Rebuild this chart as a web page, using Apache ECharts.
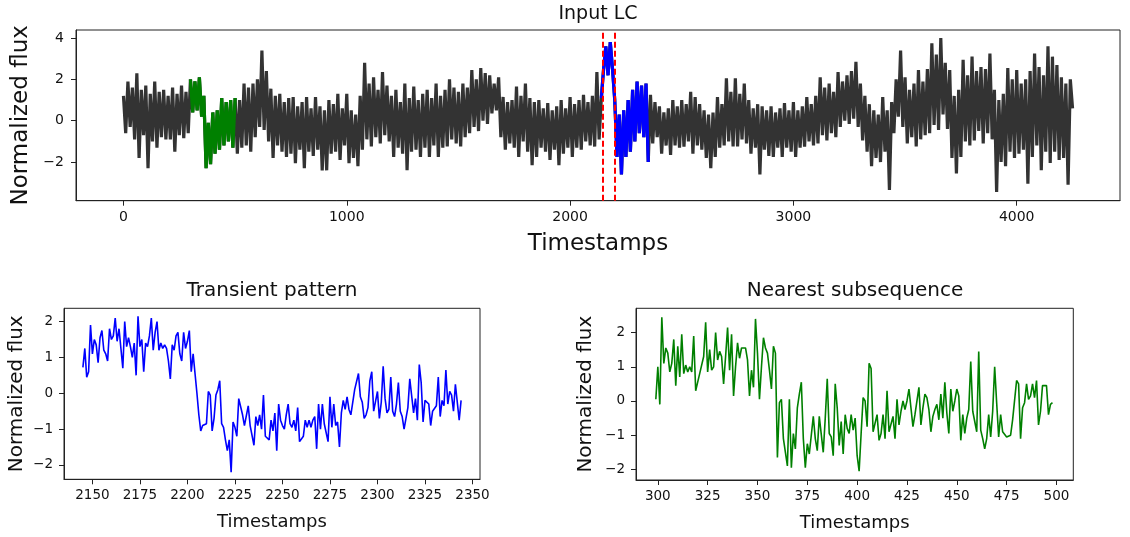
<!DOCTYPE html>
<html>
<head>
<meta charset="utf-8">
<script src="https://cdn.jsdelivr.net/npm/echarts@6/dist/echarts.min.js"></script>
<style>html,body{margin:0;padding:0;background:#fff}#c{width:1130px;height:537px}</style>
</head>
<body>
<div id="c"></div>
<script>
// ---- Data ----
// Input light curve, sampled every 10 timestamps from 0
const lcStart = 0;
const lcStep = 10;
const lcValues = [
 1.2, -0.6, 1.9, -0.3, 1.6,   -0.9, 2.3, -1.8, 1.5, -0.7,
 1.7, -2.3, 1.3, -1.0, 1.9,   -1.3, 1.4, -0.8, 1.5, -0.9,
 1.2, -0.9, 1.6, -1.5, 1.3,   -0.7, 1.7, -0.85, 1.4, -0.6,
 2.0, 0.4, 1.9, 0.5, 2.1,     0.2, 1.2, -2.3, -0.1, -2.1,
 0.4, -1.6, 0.5, -1.4, 1.1,   -1.2, 0.9, -1.0, 1.0, -1.3,
 1.1, -1.6, 1.0, -1.3, 1.8,   -1.2, 1.6, -1.5, 1.8, -0.8,
 2.0, -0.3, 3.4, -0.45, 2.4,  -1.0, 1.55, -1.8, 1.2, -1.2,
 1.3, -1.5, 0.9, -1.75, 1.1,  -1.6, 1.15, -2.05, 0.7, -1.4,
 0.9, -2.3, 1.15, -1.5, 0.6,  -1.7, 1.15, -1.4, 0.7, -2.4,
 0.5, -2.4, 1.0, -1.6, 0.8,   -1.5, 1.3, -1.9, 0.6, -1.2,
 1.3, -2.05, 0.5, -1.8, 0.3,  -2.2, 1.2, -1.4, 2.8, -0.9,
 1.8, -1.25, 2.1, -0.8, 1.5,  -1.1, 2.35, -0.7, 1.7, -1.0,
 1.2, -1.75, 1.5, -1.3, 0.9,  -1.6, 1.8, -2.4, 1.1, -1.5,
 1.65, -1.4, 1.0, -1.75, 1.3, -1.3, 1.5, -1.75, 1.1, -1.2,
 1.8, -1.75, 1.2, -1.3, 1.5,  -1.25, 2.0, -0.9, 1.6, -1.1,
 1.4, -1.25, 1.8, -0.8, 1.6,  -0.6, 2.45, -0.3, 2.0, -0.5,
 2.55, 0.0, 2.3, -0.15, 2.2,  0.35, 1.8, 0.5, 2.1, -0.8,
 1.15, -1.4, 0.9, -1.1, 1.0,  -1.3, 1.65, -1.75, 1.2, -1.0,
 1.8, -1.5, 1.1, -2.15, 0.9,  -1.75, 1.0, -1.3, 0.6, -1.5,
 0.85, -1.9, 0.5, -1.4, 0.7,  -2.15, 1.0, -1.6, 0.6, -1.3,
 1.15, -1.75, 0.8, -1.3, 1.0, -1.4, 1.25, -1.0, 0.9, -1.2,
 1.2, -1.25, 2.35, -0.9, 1.1, 2.5, 3.6, 2.2, 3.8, 2.5,
 1.0, -1.75, 0.3, -2.6, 0.5,  -1.75, 1.0, -1.5, 1.5, -1.0,
 1.9, -0.6, 1.7, -0.8, 1.8,   -2.0, 1.25, -1.1, 0.9, -0.8,
 0.7, -1.6, 0.4, -1.2, 0.6,   -1.65, 1.0, -1.2, 0.7, -1.3,
 1.0, -1.25, 0.8, -1.0, 1.4,  -1.6, 1.15, -1.2, 0.8, -1.4,
 0.5, -1.8, 0.3, -2.3, 0.4,   -1.75, 1.15, -1.3, 0.8, -1.2,
 2.05, -1.0, 1.4, -1.25, 2.05, -1.25, 1.3, -0.9, 1.8, -1.1,
 1.0, -1.6, 0.6, -1.3, 0.8,   -2.6, 0.7, -1.4, 0.5, -1.7,
 0.7, -1.75, 0.4, -1.3, 0.6,  -1.75, 0.85, -1.3, 0.5, -1.5,
 0.9, -1.75, 0.5, -1.3, 0.7,  -1.25, 1.15, -1.0, 0.8, -1.2,
 1.2, -1.1, 2.1, -0.7, 1.6,   -0.95, 1.8, -0.6, 1.4, -0.8,
 2.35, -0.3, 1.9, 0.0, 2.2,   -0.15, 2.4, 0.1, 2.85, -0.3,
 1.8, -0.95, 1.2, -1.5, 0.8,  -2.2, 0.5, -1.8, 0.3, -2.0,
 1.15, -1.5, 0.5, -3.35, 0.9, -0.6, 2.0, 0.2, 3.4, -0.3,
 2.1, -1.1, 1.5, -0.8, 1.8,   -1.25, 2.45, -0.9, 1.9, -0.7,
 2.5, -0.6, 3.75, -0.2, 3.2,  -0.45, 4.0, 0.3, 2.8, -0.4,
 2.45, -1.8, 1.2, -2.55, 1.5, -1.75, 2.95, -1.0, 2.2, -1.2,
 3.1, -0.95, 2.4, -0.5, 2.6,  -1.1, 2.5, -0.6, 3.25, -0.9,
 1.5, -3.45, 1.0, -2.0, 1.3,  -2.2, 2.55, -1.5, 2.0, -1.8,
 2.45, -1.6, 1.8, -1.4, 2.0,  -3.05, 2.4, -1.75, 3.25, -1.2,
 2.6, -2.4, 2.2, -1.5, 3.6,   -2.05, 3.1, -1.5, 2.7, -1.9,
 2.1, -1.8, 1.8, -3.1, 2.0,   0.6
];
const nearestRange = [300, 500];     // green segment on the input LC
const transientRange = [2140, 2350]; // blue segment on the input LC
const markerLines = [2145, 2200];    // red dashed lines

// Transient pattern (timestamps 2145..2344)
const transientStart = 2145;
const transientValues = [
 0.72, 1.25, 0.45, 0.6, 1.9, 1.1, 1.5, 1.35, 0.85, 1.55,
 1.75, 1.2, 1.1, 0.9, 1.8, 1.5, 1.6, 2.1, 1.45, 1.8,
 1.85, 0.7, 2.0, 1.3, 1.55, 1.3, 1.0, 1.4, 0.5, 2.15,
 1.3, 1.5, 0.6, 1.4, 1.3, 1.6, 2.1, 1.2, 1.7, 2.0,
 1.2, 1.4, 1.25, 1.35, 1.25, 0.9, 0.4, 1.35, 1.2, 1.6,
 1.7, 1.1, 0.9, 1.7, 1.25, 1.45, 1.75, 0.6, 1.1, 1.15,
 0.0, -0.6, -1.05, -0.9, -0.95, -0.85, 0.05, -0.05, -1.05, -0.7,
 -0.05, 0.1, 0.35, -0.85, -0.95, -1.3, -1.6, -1.3, -2.2, -0.8,
 -0.95, -1.2, -0.15, -0.15, -0.6, -0.9, -0.95, -0.35, -0.9, -0.85,
 -1.45, -0.65, -0.9, -0.6, -1.0, -0.05, -1.2, -1.15, -1.3, -0.75,
 -1.05, -0.55, -1.6, -0.3, -0.75, -0.9, -1.0, -0.6, -0.3, -0.85,
 -0.95, -0.75, -1.05, -0.4, -1.35, -1.35, -1.2, -0.75, -0.95, -0.75,
 -0.95, -0.75, -0.65, -1.55, -0.3, -1.0, -0.3, -0.85, -0.85, -1.35,
 -0.1, -0.95, -0.3, -0.9, -0.8, -1.5, -0.55, -0.2, -0.45, -0.1,
 -0.45, -0.6, -0.6, 0.1, 0.05, 0.55, -0.1, -0.25, -0.7, -0.6,
 -0.4, 0.35, 0.6, -0.5, -0.55, 0.05, -0.7, -0.25, 0.75, -0.15,
 -0.55, -0.45, 0.45, -0.5, -0.65, -0.3, 0.3, -0.5, -0.65, -1.0,
 -0.95, -0.4, 0.4, 0.45, -0.55, -0.15, -0.75, 0.8, 0.3, -0.8,
 -0.2, -0.2, -0.3, -0.9, -0.5, -0.45, -0.35, 0.45, -0.65, -0.2,
 -0.35, 0.65, -0.3, 0.05, -0.05, -0.5, 0.25, 0.25, -0.75, -0.2
];

// Nearest subsequence (timestamps 299..498)
const nearestStart = 299;
const nearestValues = [
 0.05, 1.0, -0.1, 2.45, 1.1, 1.55, 1.4, 0.85, 1.1, 1.8,
 0.45, 1.6, 0.7, 1.95, 0.8, 1.05, 0.85, 1.0, 0.85, 1.9,
 0.3, 0.55, 0.8, 0.85, 1.3, 2.3, 0.85, 1.5, 0.9, 1.0,
 2.0, 1.2, 1.45, 1.3, 0.5, 1.3, 2.15, 0.9, 1.95, 0.15,
 1.0, 1.7, 1.25, 1.55, 1.6, 1.55, 1.2, 0.15, 0.9, 0.4,
 2.4, 1.4, 0.05, 1.0, 1.85, 1.55, 1.4, 0.9, 0.35, 1.6,
 1.4, -1.65, -0.05, 0.05, -1.1, -1.15, -1.9, 0.05, -1.95, -0.95,
 -1.4, -0.2, 0.2, 0.55, -1.1, -1.95, -1.25, -1.55, -1.6, -0.45,
 -1.1, -1.45, -0.45, -0.4, -1.5, -0.5, 0.65, -0.95, -1.05, -1.6,
 0.5, -0.2, -1.3, -0.6, -1.55, -0.4, -0.8, -0.95, -0.4, -0.85,
 -0.5, -1.6, -2.05, -0.95, 0.1, 0.0, -0.75, 1.1, 0.95, -0.9,
 -0.95, -0.4, -1.15, -0.95, -0.4, -1.1, 0.3, -0.9, -0.9, -0.45,
 -1.1, 0.05, -0.7, -0.3, 0.0, -0.25, 0.0, 0.35, -0.2, -0.75,
 -0.4, -0.45, 0.4, -0.7, -0.2, 0.2, 0.1, -0.25, -0.9, -0.45,
 -0.25, -0.1, -0.55, 0.2, -0.5, 0.55, -0.35, -0.95, 0.35, -0.3,
 0.0, 0.35, 0.15, -1.15, -0.4, -0.95, -0.5, -0.25, 1.15, -0.3,
 -0.3, -0.9, 1.45, -0.85, -1.1, -1.4, -1.1, -0.4, -1.05, -0.3,
 1.0, -0.05, -1.05, -0.4, -0.9, -0.9, -1.05, -1.1, -1.0, -0.55,
 -0.5, 0.6, 0.5, -1.1, -0.2, -0.05, 0.5, 0.05, 0.15, 0.5,
 0.1, 0.6, -0.7, -0.3, 0.45, 0.5, 0.45, -0.4, -0.1, -0.05
];

// Tick labels
const topXTicks = [0, 1000, 2000, 3000, 4000];
const topYTicks = [-2, 0, 2, 4];
const leftXTicks = [2150, 2175, 2200, 2225, 2250, 2275, 2300, 2325, 2350];
const rightXTicks = [300, 325, 350, 375, 400, 425, 450, 475, 500];
const bottomYTicks = [-2, -1, 0, 1, 2];

// ---- Build ----
const lcData = lcValues.map((v, i) => [lcStart + i * lcStep, v]);
const inRange = (r) => lcData.filter(p => p[0] >= r[0] && p[0] <= r[1]);
const transientData = transientValues.map((v, i) => [transientStart + i, v]);
const nearestData = nearestValues.map((v, i) => [nearestStart + i, v]);

const FONT = 'DejaVu Sans';
const TXT = '#111';
const AX = '#222';
const minusFmt = v => String(v).replace('-', '\u2212');

function xAxis(gridIndex, min, max, ticks, nameGap, nameSize, labelSize, margin) {
  return {
    type: 'value', gridIndex, min, max,
    name: 'Timestamps', nameLocation: 'middle', nameGap,
    nameTextStyle: { fontFamily: FONT, fontSize: nameSize, color: TXT },
    axisLine: { show: true, onZero: false, lineStyle: { color: AX, width: 1 } },
    axisTick: { show: true, length: 5, inside: false, customValues: ticks, lineStyle: { color: AX, width: 1 } },
    axisLabel: { show: true, customValues: ticks, margin, fontFamily: FONT, fontSize: labelSize, color: TXT, formatter: minusFmt },
    splitLine: { show: false }
  };
}
function yAxis(gridIndex, min, max, ticks, nameGap, nameSize, labelSize, margin) {
  return {
    type: 'value', gridIndex, min, max,
    name: 'Normalized flux', nameLocation: 'middle', nameGap, nameRotate: 90,
    nameTextStyle: { fontFamily: FONT, fontSize: nameSize, color: TXT },
    axisLine: { show: true, onZero: false, lineStyle: { color: AX, width: 1 } },
    axisTick: { show: true, length: 5, inside: false, customValues: ticks, lineStyle: { color: AX, width: 1 } },
    axisLabel: { show: true, customValues: ticks, margin, fontFamily: FONT, fontSize: labelSize, color: TXT, formatter: minusFmt },
    splitLine: { show: false }
  };
}

const chart = echarts.init(document.getElementById('c'), null, { renderer: 'canvas' });
chart.setOption({
  animation: false,
  backgroundColor: '#fff',
  title: [
    { text: 'Input LC', left: 598, top: 4, textAlign: 'center', padding: 0,
      textStyle: { fontFamily: FONT, fontSize: 19, fontWeight: 'normal', color: TXT, lineHeight: 20 } },
    { text: 'Transient pattern', left: 272, top: 280, textAlign: 'center', padding: 0,
      textStyle: { fontFamily: FONT, fontSize: 20, fontWeight: 'normal', color: TXT, lineHeight: 21 } },
    { text: 'Nearest subsequence', left: 855, top: 280, textAlign: 'center', padding: 0,
      textStyle: { fontFamily: FONT, fontSize: 20, fontWeight: 'normal', color: TXT, lineHeight: 21 } }
  ],
  grid: [
    { left: 76, right: 10, top: 30, height: 170.7, show: true, borderColor: AX, borderWidth: 1, backgroundColor: 'transparent' },
    { left: 64, width: 416, top: 308.3, height: 171, show: true, borderColor: AX, borderWidth: 1, backgroundColor: 'transparent' },
    { left: 636, width: 437.3, top: 308.3, height: 171.7, show: true, borderColor: AX, borderWidth: 1, backgroundColor: 'transparent' }
  ],
  xAxis: [
    xAxis(0, -212.5, 4462.5, topXTicks, 32, 23, 14, 10),
    xAxis(1, 2135.05, 2353.95, leftXTicks, 34, 18, 13.5, 9),
    xAxis(2, 289.05, 508.45, rightXTicks, 34, 18, 13.5, 9)
  ],
  yAxis: [
    yAxis(0, -3.87, 4.39, topYTicks, 42, 23, 14, 12),
    yAxis(1, -2.40, 2.37, bottomYTicks, 37, 20, 13.5, 11),
    yAxis(2, -2.31, 2.71, bottomYTicks, 40, 20, 13.5, 11)
  ],
  series: [
    { type: 'line', xAxisIndex: 0, yAxisIndex: 0, data: lcData, showSymbol: false, symbol: 'none',
      lineStyle: { color: '#333333', width: 3.2, join: 'bevel' }, silent: true },
    { type: 'line', xAxisIndex: 0, yAxisIndex: 0, data: inRange(nearestRange), showSymbol: false, symbol: 'none',
      lineStyle: { color: '#008000', width: 3.2, join: 'bevel' }, silent: true },
    { type: 'line', xAxisIndex: 0, yAxisIndex: 0, data: inRange(transientRange), showSymbol: false, symbol: 'none',
      lineStyle: { color: '#0000ff', width: 3.2, join: 'bevel' }, silent: true,
      markLine: { silent: true, symbol: 'none', label: { show: false },
        lineStyle: { color: '#ff0000', type: [6, 3], width: 2 },
        data: markerLines.map(x => ({ xAxis: x })) } },
    { type: 'line', xAxisIndex: 1, yAxisIndex: 1, data: transientData, showSymbol: false, symbol: 'none',
      lineStyle: { color: '#0000ff', width: 1.6 }, silent: true },
    { type: 'line', xAxisIndex: 2, yAxisIndex: 2, data: nearestData, showSymbol: false, symbol: 'none',
      lineStyle: { color: '#008000', width: 1.6 }, silent: true }
  ]
});
</script>
</body>
</html>
